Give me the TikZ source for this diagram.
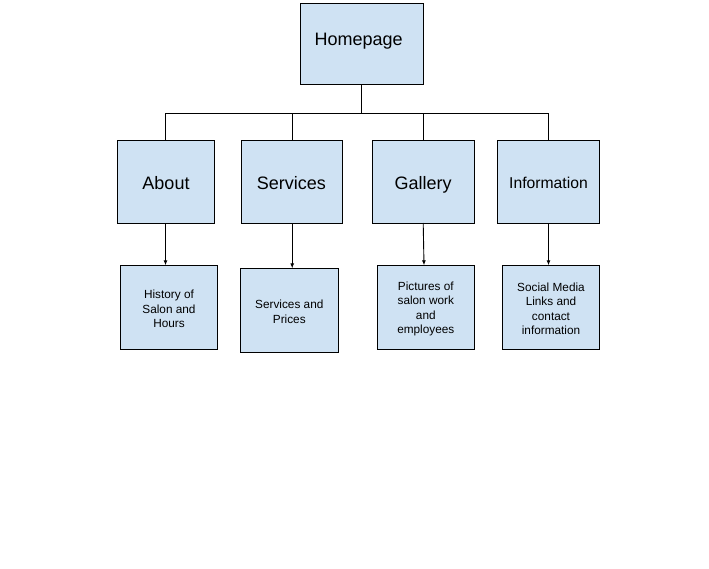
\documentclass[tikz,border=0pt]{standalone}
\usepackage{fontspec}
\setmainfont{Liberation Sans}
\usetikzlibrary{arrows.meta}
\definecolor{boxfill}{HTML}{CFE2F3}
\begin{document}
\begin{tikzpicture}[x=1pt,y=-1pt,
  box/.style={draw=black,fill=boxfill,line width=0.9pt,inner sep=0pt,outer sep=0pt},
  big/.style={inner sep=0pt,anchor=base,font=\fontsize{18}{21}\selectfont},
  small/.style={inner sep=0pt,align=center,yshift=-1.5pt,font=\fontsize{11.8}{14.3}\selectfont},
  conn/.style={draw=black,line width=0.9pt},
  arr/.style={draw=black,line width=0.9pt,-{Latex[length=5pt,width=4pt]}}]
\useasboundingbox (0,0) rectangle (709,568);
% boxes
\node[box,minimum width=123pt,minimum height=81pt] (home) at (361.5,43.5) {};
\node[box,minimum width=97pt,minimum height=83pt] (about) at (165.5,181.5) {};
\node[box,minimum width=101pt,minimum height=83pt] (serv) at (292.2,181.5) {};
\node[box,minimum width=101.7pt,minimum height=83pt] (gal) at (423.2,181.5) {};
\node[box,minimum width=102.4pt,minimum height=83pt] (info) at (548.5,181.5) {};
\node[box,minimum width=96.6pt,minimum height=84pt] (aboutc) at (169,307.3) {};
\node[box,minimum width=98.7pt,minimum height=84pt] (servc) at (289.3,310.3) {};
\node[box,minimum width=97pt,minimum height=84pt] (galc) at (425.8,307.3) {};
\node[box,minimum width=97.4pt,minimum height=84pt] (infoc) at (551,307.3) {};
% texts
\node[big] (homet) at ([xshift=-2.8pt,yshift=-1.8pt]home.center) {Homepage};
\node[big] (aboutt) at ([xshift=0.5pt,yshift=-7.8pt]about.center) {About};
\node[big] (servt) at ([xshift=-0.8pt,yshift=-7.8pt]serv.center) {Services};
\node[big] (galt) at ([yshift=-7.8pt]gal.center) {Gallery};
\node[big,font=\fontsize{15.7}{19}\selectfont] (infot) at ([yshift=-6.8pt]info.center) {Information};
\node[small] (aboutct) at (aboutc.center) {History of\\Salon and\\Hours};
\node[small] (servct) at (servc.center) {Services and\\Prices};
\node[small] (galct) at (galc.center) {Pictures of\\salon work\\and\\employees};
\node[small] (infoct) at (infoc.center) {Social Media\\Links and\\contact\\information};
% connectors
\coordinate (bus) at (0,113.3);
\draw[conn] (home.south) -- (home.south |- bus) -| (about.north);
\draw[conn] (home.south) -- (home.south |- bus) -| (serv.north);
\draw[conn] (home.south) -- (home.south |- bus) -| (gal.north);
\draw[conn] (home.south) -- (home.south |- bus) -| (info.north);
\draw[arr] (about.south) -- (about.south |- aboutc.north);
\draw[arr] (serv.south) -- (serv.south |- servc.north);
\draw[arr] (gal.south) -- ([xshift=0.8pt]gal.south |- galc.north);
\draw[arr] (info.south) -- (info.south |- infoc.north);
\end{tikzpicture}
\end{document}
